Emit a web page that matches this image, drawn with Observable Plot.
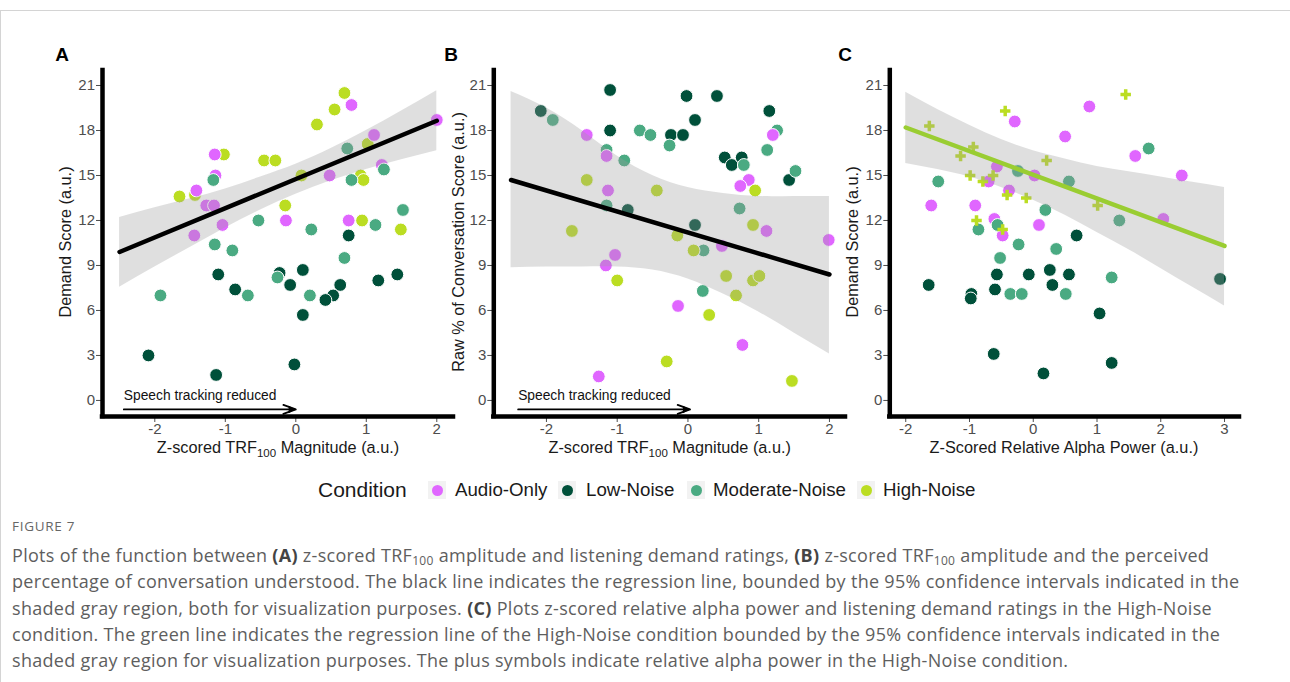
<!DOCTYPE html>
<html>
<head>
<meta charset="utf-8">
<script src="https://cdn.jsdelivr.net/npm/d3@7"></script>
<script src="https://cdn.jsdelivr.net/npm/@observablehq/plot@0.6"></script>
<style>
  html, body { margin: 0; padding: 0; background: #fff; }
  body { width: 1290px; height: 682px; overflow: hidden; position: relative; font-family: "Liberation Sans", Arial, sans-serif; }
  #frame { position: absolute; left: 0; top: 10px; width: 1290px; height: 672px; border-top: 1px solid #d4d4d4; border-left: 1px solid #d4d4d4; box-sizing: border-box; }
  .panel { position: absolute; top: 40px; }
  #legend { position: absolute; left: 0; top: 0; }
  .lg-title { position: absolute; left: 318px; top: 477px; font-size: 21px; line-height: 26px; color: #1a1a1a; }
  .lg-key { position: absolute; top: 481px; width: 18px; height: 18px; background: #f2f2f2; }
  .lg-key span { position: absolute; left: 3.5px; top: 3.5px; width: 11px; height: 11px; border-radius: 50%; }
  .lg-label { position: absolute; top: 478px; font-size: 18.7px; line-height: 24px; color: #1a1a1a; white-space: nowrap; }
  #fig { position: absolute; left: 12px; top: 517px; font-family: "Open Sans", sans-serif; font-size: 13.5px; letter-spacing: 0.7px; color: #666; }
  #caption { position: absolute; left: 12px; top: 542px; font-family: "Open Sans", sans-serif; font-size: 18px; letter-spacing: 0.3px; line-height: 26.3px; color: #5e5e5e; }
  #caption div { white-space: nowrap; }
  #caption b { color: #444; }
  #caption sub { font-size: 12px; vertical-align: -3px; line-height: 0; }
</style>
</head>
<body>
<div id="frame"></div>
<div id="pA" class="panel" style="left:50px"></div>
<div id="pB" class="panel" style="left:445px"></div>
<div id="pC" class="panel" style="left:840px"></div>
<div id="legend"></div>
<div id="fig">FIGURE 7</div>
<div id="caption">
  <div>Plots of the function between <b>(A)</b> z-scored TRF<sub>100</sub> amplitude and listening demand ratings, <b>(B)</b> z-scored TRF<sub>100</sub> amplitude and the perceived</div>
  <div>percentage of conversation understood. The black line indicates the regression line, bounded by the 95% confidence intervals indicated in the</div>
  <div>shaded gray region, both for visualization purposes. <b>(C)</b> Plots z-scored relative alpha power and listening demand ratings in the High-Noise</div>
  <div>condition. The green line indicates the regression line of the High-Noise condition bounded by the 95% confidence intervals indicated in the</div>
  <div>shaded gray region for visualization purposes. The plus symbols indicate relative alpha power in the High-Noise condition.</div>
</div>
<script>
// ---------------- DATA ----------------
const conditions = ["Audio-Only", "Low-Noise", "Moderate-Noise", "High-Noise"];
const condColors = ["#E066FF", "#00503A", "#4AAA82", "#BBDD22"];

const yTicks = [0, 3, 6, 9, 12, 15, 18, 21];
const xTicksAB = [-2, -1, 0, 1, 2];
const xTicksC = [-2, -1, 0, 1, 2, 3];

// Panel A: z-scored TRF100 magnitude vs demand score
const aHigh = [[0.69,20.5],[0.55,19.4],[0.30,18.4],[-1.02,16.4],[-0.45,16.0],[-0.29,16.0],[1.02,17.1],[0.08,15.0],[0.92,15.0],[0.96,14.7],[-1.65,13.6],[-1.43,13.7],[-0.15,13.0],[0.94,12.0],[1.49,11.4]];
const aAudio = [[0.79,19.7],[2.0,18.7],[1.11,17.7],[-1.15,16.4],[-1.14,15.0],[-1.41,14.0],[-1.27,13.0],[-1.16,13.0],[-1.04,11.7],[-1.44,11.0],[0.48,15.0],[1.22,15.7],[-0.14,12.0],[0.75,12.0]];
const aLow = [[0.75,11.0],[-1.10,8.4],[0.10,8.7],[-0.86,7.4],[-0.08,7.7],[0.63,7.7],[0.53,7.0],[0.42,6.7],[1.17,8.0],[1.44,8.4],[0.10,5.7],[-2.09,3.0],[-1.13,1.7],[-0.02,2.4],[-0.23,8.5]];
const aMod = [[0.73,16.8],[-1.17,14.7],[0.79,14.7],[1.25,15.4],[1.52,12.7],[1.13,11.7],[-0.53,12.0],[0.22,11.4],[-1.15,10.4],[-0.90,10.0],[0.69,9.5],[-0.26,8.2],[-1.92,7.0],[-0.68,7.0],[0.20,7.0]];
const aBandX = [-2.5,-2,-1.5,-1,-0.5,0,0.5,1,1.5,2];
const aBandLo = [7.55,8.9,10.2,11.5,12.7,13.75,14.65,15.4,16.05,16.65];
const aBandHi = [12.2,12.85,13.45,14.1,14.9,15.75,16.8,18.0,19.3,20.65];
const aFitX = [-2.5, 2.0];
const aFitY = [9.9, 18.65];

// Panel B: z-scored TRF100 magnitude vs raw % of conversation score
const bLow = [[-2.08,19.3],[-1.10,20.7],[-1.10,18.0],[-0.02,20.3],[0.41,20.3],[0.10,18.7],[-0.24,17.7],[-0.07,17.7],[1.15,19.3],[0.52,16.2],[0.62,15.7],[0.76,16.2],[1.43,14.7],[-0.85,12.7],[0.10,11.7]];
const bMod = [[-1.91,18.7],[-0.68,18.0],[-0.53,17.7],[-0.26,17.0],[-1.15,16.7],[-0.90,16.0],[0.79,15.7],[1.26,18.0],[1.12,16.7],[1.52,15.3],[-1.15,13.0],[0.73,12.8],[0.22,10.0],[0.21,7.3]];
const bAudio = [[-1.43,17.7],[1.20,17.7],[-1.15,16.3],[0.86,14.7],[0.74,14.3],[-1.13,14.0],[1.11,11.3],[0.48,10.3],[1.99,10.7],[-1.03,9.7],[-1.16,9.0],[-0.14,6.3],[0.77,3.7],[-1.26,1.6]];
const bHigh = [[-1.43,14.7],[-0.44,14.0],[0.95,14.0],[-1.64,11.3],[-0.15,11.0],[0.92,11.7],[0.08,10.0],[-1.00,8.0],[0.54,8.3],[0.92,8.0],[1.01,8.3],[0.68,7.0],[0.30,5.7],[-0.30,2.6],[1.47,1.3]];
const bBandX = [-2.5,-2,-1.5,-1,-0.5,0,0.5,1,1.5,2];
const bBandLo = [8.85,8.9,8.9,8.9,8.7,8.1,7.1,5.9,4.5,3.1];
const bBandHi = [20.6,19.5,18.0,16.3,15.0,14.2,13.8,13.6,13.6,13.6];
const bFitX = [-2.5, 2.0];
const bFitY = [14.7, 8.4];

// Panel C: z-scored relative alpha power vs demand score
const cHighPlus = [[-1.63,18.3],[-0.44,19.3],[1.45,20.4],[-0.94,16.9],[-1.14,16.3],[0.21,16.0],[-0.99,15.0],[-0.79,14.6],[-0.63,15.0],[-0.41,13.7],[-0.11,13.5],[1.01,13.0],[-0.89,12.0],[-0.48,11.4]];
const cAudio = [[0.88,19.6],[-0.29,18.6],[0.50,17.6],[1.60,16.3],[2.33,15.0],[-0.57,15.6],[0.02,15.0],[-0.70,14.6],[-0.38,14.0],[-1.60,13.0],[-0.91,13.0],[0.09,11.7],[-0.61,12.1],[-0.48,11.0],[2.04,12.1]];
const cMod = [[1.81,16.8],[-1.49,14.6],[-0.24,15.3],[0.56,14.6],[0.19,12.7],[1.35,12.0],[-0.86,11.4],[-0.56,11.7],[-0.23,10.4],[0.36,10.1],[-0.52,9.5],[1.23,8.2],[-0.36,7.1],[-0.18,7.1],[0.51,7.1]];
const cLow = [[0.68,11.0],[-1.64,7.7],[-0.97,7.1],[-0.98,6.8],[-0.57,8.4],[-0.60,7.4],[-0.07,8.4],[0.26,8.7],[0.30,7.7],[0.56,8.4],[2.93,8.1],[1.04,5.8],[-0.62,3.1],[1.23,2.5],[0.16,1.8]];
const cBandX = [-2,-1.5,-1,-0.5,0,0.5,1,1.5,2,2.5,3];
const cBandLo = [15.8,15.4,14.9,14.2,13.35,12.35,11.2,10.05,8.8,7.55,6.3];
const cBandHi = [20.55,19.4,18.35,17.4,16.65,16.1,15.6,15.25,14.9,14.55,14.2];
const cFitX = [-2.0, 3.0];
const cFitY = [18.2, 10.3];

// annotation
const noteText = "Speech tracking reduced";
const arrowStartX = [-2.44, -2.40];
const arrowEndX = [0.0, 0.03];
const arrowY = -0.6;
const noteY = 0.3;

// ---------------- BUILD ----------------
const FONT = "'Liberation Sans', Arial, Helvetica, sans-serif";
const yDomain = [-1.07, 22];

function rows(pairs, cond) { return pairs.map(([x, y]) => ({x, y, cond})); }
function band(xs, lo, hi) { return xs.map((x, i) => ({x, lo: lo[i], hi: hi[i]})); }
function fit(xs, ys) { return xs.map((x, i) => ({x, y: ys[i]})); }

function makePanel(cfg) {
  const marks = [];
  const hasAxisMarks = typeof Plot.axisX === "function";
  if (hasAxisMarks) {
    marks.push(
      Plot.axisX({ticks: cfg.xTicks, tickFormat: d => String(d), tickSize: 6, tickPadding: 1, fontSize: 15, color: "#4d4d4d", label: null}),
      Plot.axisY({ticks: yTicks, tickFormat: d => String(d), tickSize: 6, tickPadding: 1.5, fontSize: 15, color: "#4d4d4d", label: null})
    );
  }
  marks.push(Plot.dot(cfg.points, {x: "x", y: "y", fill: "cond", r: 6.4, stroke: "white", strokeWidth: 1}));
  if (cfg.plus) {
    marks.push(Plot.dot(cfg.plus, {x: "x", y: "y", fill: condColors[3], symbol: "cross", r: 4.4}));
  }
  marks.push(
    Plot.areaY(cfg.band, {x: "x", y1: "lo", y2: "hi", fill: "#9a9a9a", fillOpacity: 0.32, curve: "natural"}),
    Plot.line(cfg.fit, {x: "x", y: "y", stroke: cfg.fitColor, strokeWidth: 4.5})
  );
  if (cfg.arrow) {
    marks.push(
      Plot.arrow(cfg.arrow, {x1: "x1", y1: "y", x2: "x2", y2: "y", stroke: "black", strokeWidth: 1.8, headLength: 11, headAngle: 40}),
      Plot.dot(cfg.arrow, {x: "x2", y: "y", symbol: "triangle2", rotate: 90, r: 3.6, fill: "black", dx: -5}),
      Plot.text(cfg.note, {x: "x", y: "y", text: "t", textAnchor: "start", fontSize: 13.8, fill: "#111"})
    );
  }
  marks.push(
    Plot.ruleX([cfg.xDomain[0]], {stroke: "black", strokeWidth: 4.5, strokeLinecap: "square"}),
    Plot.ruleY([yDomain[0]], {stroke: "black", strokeWidth: 4.5, strokeLinecap: "square"})
  );
  const plot = Plot.plot({
    width: cfg.width, height: 430,
    marginLeft: cfg.ml, marginRight: cfg.mr, marginTop: 30, marginBottom: 54,
    style: {background: "none", overflow: "visible", fontFamily: FONT, fontSize: "15px", color: "#4d4d4d"},
    x: {domain: cfg.xDomain, ticks: cfg.xTicks, tickFormat: d => String(d), tickSize: 6, tickPadding: 1, label: null},
    y: {domain: yDomain, ticks: yTicks, tickFormat: d => String(d), tickSize: 6, tickPadding: 1.5, label: null},
    color: {domain: conditions, range: condColors},
    marks
  });
  const svg = d3.select(plot);
  // panel letter
  svg.append("text").attr("x", cfg.letterX).attr("y", 21).attr("font-size", 19).attr("font-weight", "bold")
    .attr("fill", "#000").attr("font-family", FONT).text(cfg.letter);
  // y label
  svg.append("text").attr("transform", `translate(${cfg.yLabelX},202) rotate(-90)`).attr("text-anchor", "middle")
    .attr("dominant-baseline", "central").attr("font-size", 16.3).attr("fill", "#1a1a1a").attr("font-family", FONT)
    .text(cfg.yLabel);
  // x label
  const t = svg.append("text").attr("x", cfg.xLabelX).attr("y", 413).attr("text-anchor", "middle")
    .attr("font-size", 16.3).attr("fill", "#1a1a1a").attr("font-family", FONT);
  if (cfg.xSub) {
    t.append("tspan").text(cfg.xLabel[0]);
    t.append("tspan").attr("font-size", 11.5).attr("dy", 4).text(cfg.xSub);
    t.append("tspan").attr("dy", -4).text(cfg.xLabel[1]);
  } else {
    t.text(cfg.xLabel[0]);
  }
  document.getElementById(cfg.id).appendChild(plot);
}

makePanel({
  id: "pA", width: 405, ml: 52, mr: 2, xDomain: [-2.742, 2.237], xTicks: xTicksAB,
  points: [...rows(aHigh, "High-Noise"), ...rows(aAudio, "Audio-Only"), ...rows(aLow, "Low-Noise"), ...rows(aMod, "Moderate-Noise")],
  band: band(aBandX, aBandLo, aBandHi), fit: fit(aFitX, aFitY), fitColor: "black",
  arrow: [{x1: arrowStartX[0], x2: arrowEndX[0], y: arrowY}], note: [{x: arrowStartX[0], y: noteY, t: noteText}],
  letter: "A", letterX: 12, yLabel: "Demand Score (a.u.)", yLabelX: 15,
  xLabel: ["Z-scored TRF", " Magnitude (a.u.)"], xSub: "100", xLabelX: 228
});

makePanel({
  id: "pB", width: 405, ml: 48.3, mr: 5, xDomain: [-2.744, 2.227], xTicks: xTicksAB,
  points: [...rows(bLow, "Low-Noise"), ...rows(bMod, "Moderate-Noise"), ...rows(bAudio, "Audio-Only"), ...rows(bHigh, "High-Noise")],
  band: band(bBandX, bBandLo, bBandHi), fit: fit(bFitX, bFitY), fitColor: "black",
  arrow: [{x1: arrowStartX[1], x2: arrowEndX[1], y: arrowY}], note: [{x: arrowStartX[1], y: noteY, t: noteText}],
  letter: "B", letterX: 6, yLabel: "Raw % of Conversation Score (a.u.)", yLabelX: 13,
  xLabel: ["Z-scored TRF", " Magnitude (a.u.)"], xSub: "100", xLabelX: 224.7
});

makePanel({
  id: "pC", width: 410, ml: 49.3, mr: 11, xDomain: [-2.25, 3.235], xTicks: xTicksC,
  points: [...rows(cAudio, "Audio-Only"), ...rows(cMod, "Moderate-Noise"), ...rows(cLow, "Low-Noise")],
  plus: rows(cHighPlus, "High-Noise"),
  band: band(cBandX, cBandLo, cBandHi), fit: fit(cFitX, cFitY), fitColor: "#9ACD32",
  letter: "C", letterX: 5, yLabel: "Demand Score (a.u.)", yLabelX: 12,
  xLabel: ["Z-Scored Relative Alpha Power (a.u.)"], xLabelX: 224
});

// ---------------- LEGEND ----------------
const legendKeyX = [428, 558, 687, 857];
const legendLabelX = [455, 586, 713, 883];
const legend = document.getElementById("legend");
legend.innerHTML = `<div class="lg-title">Condition</div>` + conditions.map((c, i) =>
  `<div class="lg-key" style="left:${legendKeyX[i]}px"><span style="background:${condColors[i]}"></span></div>` +
  `<div class="lg-label" style="left:${legendLabelX[i]}px">${c}</div>`).join("");
</script>
</body>
</html>
